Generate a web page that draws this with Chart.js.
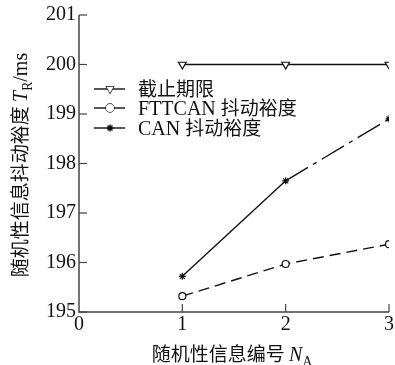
<!DOCTYPE html>
<html>
<head>
<meta charset="utf-8">
<script src="https://cdn.jsdelivr.net/npm/chart.js@4"></script>
<style>
  html, body { margin: 0; padding: 0; background: #fff; }
  #wrap { width: 395px; height: 365px; }
</style>
</head>
<body>
<div id="wrap"><canvas id="chart"></canvas></div>
<script>
const xValues = [1, 2, 3];
const deadline = [200, 200, 200];
const fttcanJitter = [195.32, 195.97, 196.37];
const canJitter = [195.72, 197.65, 198.9];
const legendLabels = ['截止期限', 'FTTCAN 抖动裕度', 'CAN 抖动裕度'];

const SERIF = 'Liberation Serif';
const CJK = 'Noto Sans CJK SC';
const INK = '#111';
const AXIS = '#444';

Chart.defaults.font.family = SERIF;

function toPoints(vals) {
  return xValues.map((x, i) => ({ x: x, y: vals[i] }));
}

// draws a run of text pieces; each piece may be italic or subscript
function drawRuns(ctx, runs, x, y, size, align) {
  const pieces = runs.map(r => {
    const cjk = /[\u4e00-\u9fff]/.test(r.t);
    const s = r.sub ? size * 0.68 : (cjk ? size * 0.95 : size);
    const fam = cjk ? '"' + CJK + '"' : '"' + SERIF + '"';
    const font = (r.it ? 'italic ' : '') + s + 'px ' + fam;
    ctx.font = font;
    return { t: r.t, font: font, w: ctx.measureText(r.t).width, dy: r.sub ? size * 0.25 : 0 };
  });
  const total = pieces.reduce((a, p) => a + p.w, 0);
  let cx = align === 'center' ? x - total / 2 : x;
  ctx.textAlign = 'left';
  ctx.textBaseline = 'alphabetic';
  pieces.forEach(p => {
    ctx.font = p.font;
    ctx.fillText(p.t, cx, y + p.dy);
    cx += p.w;
  });
}

const decorPlugin = {
  id: 'decor',
  afterDraw(chart) {
    const ctx = chart.ctx;
    const xs = chart.scales.x, ys = chart.scales.y;
    const area = chart.chartArea;
    ctx.save();
    // axes lines
    ctx.strokeStyle = AXIS;
    ctx.lineWidth = 1.5;
    ctx.beginPath();
    ctx.moveTo(area.left, area.top);
    ctx.lineTo(area.left, area.bottom);
    ctx.lineTo(area.right, area.bottom);
    ctx.stroke();
    // inward ticks
    ctx.lineWidth = 1.2;
    ys.ticks.forEach(t => {
      const py = ys.getPixelForValue(t.value);
      ctx.beginPath();
      ctx.moveTo(area.left, py);
      ctx.lineTo(area.left + 8, py);
      ctx.stroke();
    });
    xs.ticks.forEach(t => {
      if (t.value === 0) return;
      const px = xs.getPixelForValue(t.value);
      ctx.beginPath();
      ctx.moveTo(px, area.bottom);
      ctx.lineTo(px, area.bottom - 8);
      ctx.stroke();
    });

    // legend
    const markers = ['triangle', 'circle', 'star'];
    const rot = [180, 0, 0];
    const rows = [89, 108, 128];
    rows.forEach((ry, i) => {
      ctx.strokeStyle = INK;
      ctx.lineWidth = 1.4;
      ctx.beginPath();
      ctx.moveTo(94, ry);
      ctx.lineTo(125, ry);
      ctx.stroke();
      ctx.fillStyle = '#fff';
      Chart.helpers.drawPoint(ctx, { pointStyle: markers[i], radius: i === 2 ? 3.5 : 4, rotation: rot[i], borderWidth: 1.2 }, 110, ry);
      if (i !== 2) ctx.fill();
      ctx.fillStyle = INK;
      const runs = legendLabels[i].split(' ').map((s, k, arr) => ({ t: s + (k < arr.length - 1 ? ' ' : '') }));
      drawRuns(ctx, runs, 138, ry + 7, 20, 'left');
    });

    // x title
    drawRuns(ctx, [{ t: '随机性信息编号 ' }, { t: 'N', it: true }, { t: 'A', sub: true }], 232, 361, 20, 'center');
    // y title
    ctx.translate(27, 165);
    ctx.rotate(-Math.PI / 2);
    drawRuns(ctx, [{ t: '随机性信息抖动裕度 ' }, { t: 'T', it: true }, { t: 'R', sub: true }, { t: '/ms' }], 0, 0, 20, 'center');
    ctx.restore();
  }
};

new Chart(document.getElementById('chart'), {
  type: 'line',
  data: {
    datasets: [
      {
        label: legendLabels[0],
        data: toPoints(deadline),
        borderColor: INK,
        borderWidth: 1.6,
        pointStyle: 'triangle',
        pointRotation: 180,
        pointRadius: 4.5,
        pointBorderWidth: 1.2,
        pointBackgroundColor: '#fff',
        pointBorderColor: INK
      },
      {
        label: legendLabels[1],
        data: toPoints(fttcanJitter),
        borderColor: INK,
        borderWidth: 1.4,
        borderDash: [11, 6],
        pointStyle: 'circle',
        pointRadius: 3.5,
        pointBorderWidth: 1.2,
        pointBackgroundColor: '#fff',
        pointBorderColor: INK
      },
      {
        label: legendLabels[2],
        data: toPoints(canJitter),
        borderColor: INK,
        borderWidth: 1.4,
        pointStyle: 'star',
        pointRadius: 3.5,
        pointBorderWidth: 1.2,
        pointBorderColor: INK,
        segment: {
          borderDash: c => c.p0DataIndex === 1 ? [26, 6, 4, 6] : undefined
        }
      }
    ]
  },
  options: {
    responsive: true,
    maintainAspectRatio: false,
    animation: false,
    layout: { padding: { top: 15, right: 5, left: 0, bottom: 0 } },
    plugins: {
      legend: { display: false },
      tooltip: { enabled: false }
    },
    scales: {
      x: {
        type: 'linear',
        min: 0,
        max: 3,
        ticks: {
          stepSize: 1,
          color: INK,
          padding: 1,
          font: { family: SERIF, size: 20 }
        },
        grid: { display: false, drawTicks: false, tickLength: 0 },
        border: { display: false },
        afterFit(s) { s.height = 53; }
      },
      y: {
        min: 195,
        max: 201,
        ticks: {
          stepSize: 1,
          color: INK,
          padding: 3,
          font: { family: SERIF, size: 20 }
        },
        grid: { display: false, drawTicks: false, tickLength: 0 },
        border: { display: false },
        afterFit(s) { s.width = 79; }
      }
    }
  },
  plugins: [decorPlugin]
});
</script>
</body>
</html>
